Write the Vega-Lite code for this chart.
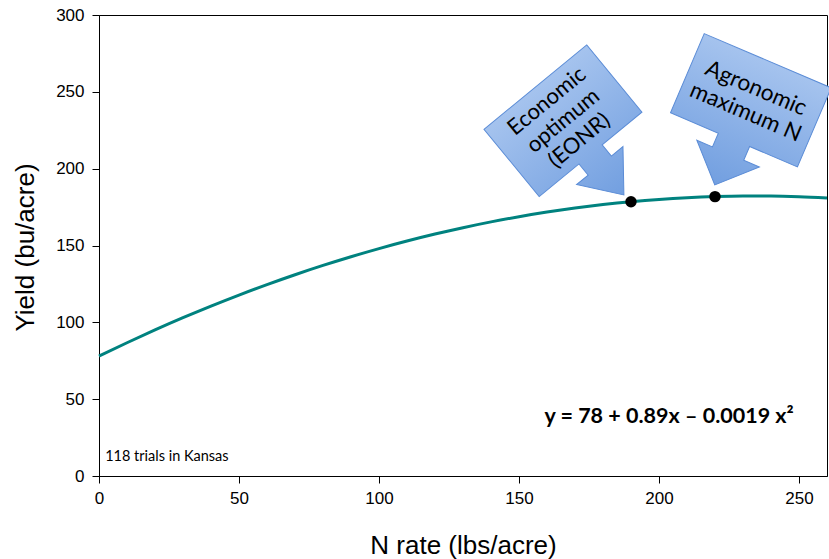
{
  "$schema": "https://vega.github.io/schema/vega-lite/v6.json",
  "width": 728,
  "height": 461,
  "autosize": {"type": "none"},
  "padding": {"left": 99, "top": 15, "right": 2, "bottom": 83},
  "background": "white",
  "config": {
    "view": {"stroke": "black", "strokeWidth": 1},
    "axis": {
      "grid": false,
      "domainColor": "black",
      "tickColor": "black",
      "labelColor": "black",
      "titleColor": "black",
      "labelFont": "Liberation Sans",
      "titleFont": "Liberation Sans",
      "labelFontSize": 17,
      "titleFontSize": 26,
      "titleFontWeight": "normal",
      "tickSize": 7,
      "labelFlush": false
    }
  },
  "datasets": {
    "curve": [
      {"n": 0, "yield": 78}, {"n": 10, "yield": 86.71}, {"n": 20, "yield": 95.04},
      {"n": 30, "yield": 102.99}, {"n": 40, "yield": 110.56}, {"n": 50, "yield": 117.75},
      {"n": 60, "yield": 124.56}, {"n": 70, "yield": 130.99}, {"n": 80, "yield": 137.04},
      {"n": 90, "yield": 142.71}, {"n": 100, "yield": 148}, {"n": 110, "yield": 152.91},
      {"n": 120, "yield": 157.44}, {"n": 130, "yield": 161.59}, {"n": 140, "yield": 165.36},
      {"n": 150, "yield": 168.75}, {"n": 160, "yield": 171.76}, {"n": 170, "yield": 174.39},
      {"n": 180, "yield": 176.64}, {"n": 190, "yield": 178.51}, {"n": 200, "yield": 180},
      {"n": 210, "yield": 181.11}, {"n": 220, "yield": 181.84}, {"n": 230, "yield": 182.19},
      {"n": 240, "yield": 182.16}, {"n": 250, "yield": 181.75}, {"n": 260, "yield": 180.96}
    ],
    "optima": [
      {"n": 190, "yield": 178.5, "label": "EONR"},
      {"n": 220, "yield": 181.8, "label": "Agronomic maximum N"}
    ],
    "econ": [{"n": 165.7, "yield": 231.2, "text": "Economic\noptimum\n(EONR)"}],
    "agro": [{"n": 232.8, "yield": 244.5, "text": "Agronomic\nmaximum N"}],
    "notes": [{"n": 203.6, "yield": 34.7, "text": "y = 78 + 0.89x – 0.0019 x²"}],
    "trials": [{"n": 2.2, "yield": 10, "text": "118 trials in Kansas"}]
  },
  "encoding": {
    "x": {
      "field": "n", "type": "quantitative",
      "scale": {"domain": [0, 260], "nice": false, "zero": false},
      "axis": {"values": [0, 50, 100, 150, 200, 250], "title": "N rate (lbs/acre)", "labelPadding": 7, "titleY": 77, "titleBaseline": "alphabetic"}
    },
    "y": {
      "field": "yield", "type": "quantitative",
      "scale": {"domain": [0, 300], "nice": false},
      "axis": {"values": [0, 50, 100, 150, 200, 250, 300], "title": "Yield (bu/acre)", "labelPadding": 8, "titleX": -66, "titleY": 232, "titleBaseline": "alphabetic"}
    }
  },
  "layer": [
    {
      "data": {"name": "curve"},
      "mark": {"type": "line", "color": "#00827F", "strokeWidth": 3, "interpolate": "monotone"}
    },
    {
      "data": {"name": "econ"},
      "mark": {
        "type": "point",
        "shape": "M -66.5 -43.5 L 66.5 -43.5 L 66.5 43.5 L 15 43.5 L 15 58 L 30 58 L 0 96 L -30 58 L -15 58 L -15 43.5 L -66.5 43.5 Z",
        "size": 4,
        "angle": -39.4,
        "filled": true,
        "fill": {"x1": 0, "y1": 0, "x2": 0, "y2": 1, "gradient": "linear", "stops": [{"offset": 0, "color": "#A5C3EE"}, {"offset": 1, "color": "#729FE0"}]},
        "stroke": "#5B8CD6",
        "strokeWidth": 1,
        "opacity": 1
      }
    },
    {
      "data": {"name": "agro"},
      "mark": {
        "type": "point",
        "shape": "M -69 -43 L 69 -43 L 69 43 L 17 43 L 17 58 L 34 58 L 0 92 L -34 58 L -17 58 L -17 43 L -69 43 Z",
        "size": 4,
        "angle": 23.1,
        "filled": true,
        "fill": {"x1": 0, "y1": 0, "x2": 0, "y2": 1, "gradient": "linear", "stops": [{"offset": 0, "color": "#A5C3EE"}, {"offset": 1, "color": "#729FE0"}]},
        "stroke": "#5B8CD6",
        "strokeWidth": 1,
        "opacity": 1
      }
    },
    {
      "data": {"name": "econ"},
      "mark": {"type": "text", "angle": -39.4, "dy": -25.5, "font": "Lato", "fontSize": 22, "color": "black", "align": "center", "baseline": "middle", "lineBreak": "\n", "lineHeight": 25.5},
      "encoding": {"text": {"field": "text"}}
    },
    {
      "data": {"name": "agro"},
      "mark": {"type": "text", "angle": 23.1, "dy": -13, "font": "Lato", "fontSize": 22.5, "color": "black", "align": "center", "baseline": "middle", "lineBreak": "\n", "lineHeight": 26},
      "encoding": {"text": {"field": "text"}}
    },
    {
      "data": {"name": "optima"},
      "mark": {"type": "point", "filled": true, "color": "black", "size": 130, "opacity": 1}
    },
    {
      "data": {"name": "notes"},
      "mark": {"type": "text", "font": "Lato", "fontSize": 21.5, "fontWeight": "bold", "color": "black", "align": "center", "baseline": "alphabetic"},
      "encoding": {"text": {"field": "text"}}
    },
    {
      "data": {"name": "trials"},
      "mark": {"type": "text", "font": "Lato", "fontSize": 14.5, "color": "black", "align": "left", "baseline": "alphabetic"},
      "encoding": {"text": {"field": "text"}}
    }
  ]
}
